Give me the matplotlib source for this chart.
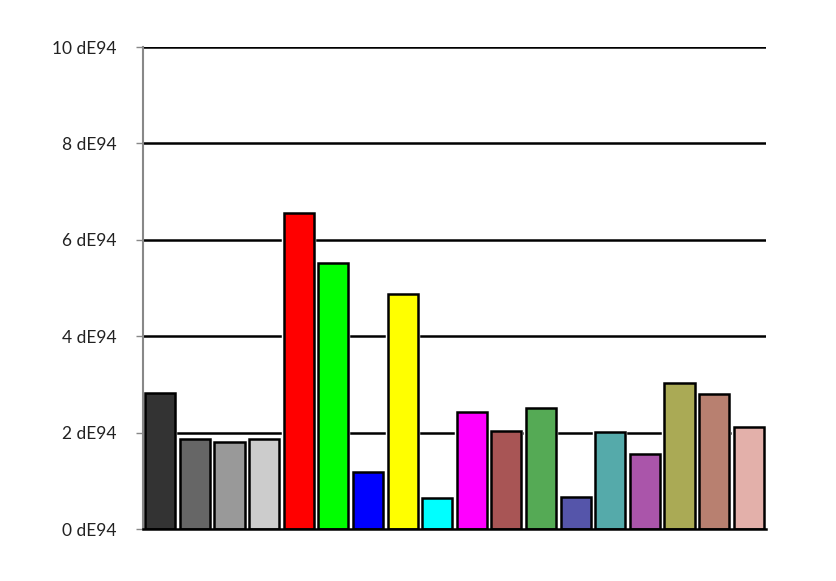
import matplotlib
matplotlib.use('Agg')
import matplotlib.pyplot as plt

# Valores dE94 por parche de color
muestras = list(range(18))
valores = [2.82, 1.87, 1.80, 1.87, 6.56, 5.52, 1.18, 4.88, 0.64,
           2.43, 2.03, 2.51, 0.66, 2.01, 1.56, 3.03, 2.80, 2.12]
colores = ['#333333', '#666666', '#999999', '#cccccc', '#ff0000', '#00ff00',
           '#0000ff', '#ffff00', '#00ffff', '#ff00ff', '#a85555', '#55aa55',
           '#5555aa', '#55aaaa', '#aa55aa', '#aaaa55', '#b88070', '#e3b0aa']
ticks_y = [0, 2, 4, 6, 8, 10]
etiquetas_y = [f'{t} dE94' for t in ticks_y]

plt.rcParams['font.family'] = ['Lato', 'DejaVu Sans']

fig = plt.figure(figsize=(8.37, 5.81), dpi=100)
ax = fig.add_axes([0.1708, 0.0895, 0.7444, 0.8296])

# Cuadrícula horizontal negra
for t in ticks_y[1:]:
    ax.axhline(t, color='black', linewidth=1.8, zorder=1)

# Halo blanco fino alrededor de cada barra, luego la barra con borde negro
ax.bar(muestras, valores, width=0.87, color=colores, edgecolor='white',
       linewidth=3.2, zorder=2)
ax.bar(muestras, valores, width=0.87, color=colores, edgecolor='black',
       linewidth=1.8, zorder=3)

ax.set_xlim(-0.5, 17.5)
ax.set_ylim(0, 10)
ax.set_yticks(ticks_y)
ax.set_yticklabels(etiquetas_y, fontsize=12.5, color='#222222')
ax.set_xticks([])
ax.tick_params(axis='y', length=5, width=1, color='#888888', pad=14)

for lado in ['top', 'right']:
    ax.spines[lado].set_visible(False)
ax.spines['left'].set_color('#888888')
ax.spines['left'].set_linewidth(1.5)
ax.spines['bottom'].set_color('black')
ax.spines['bottom'].set_linewidth(1.8)
ax.spines['bottom'].set_zorder(4)

fig.savefig('out.png', dpi=100)
